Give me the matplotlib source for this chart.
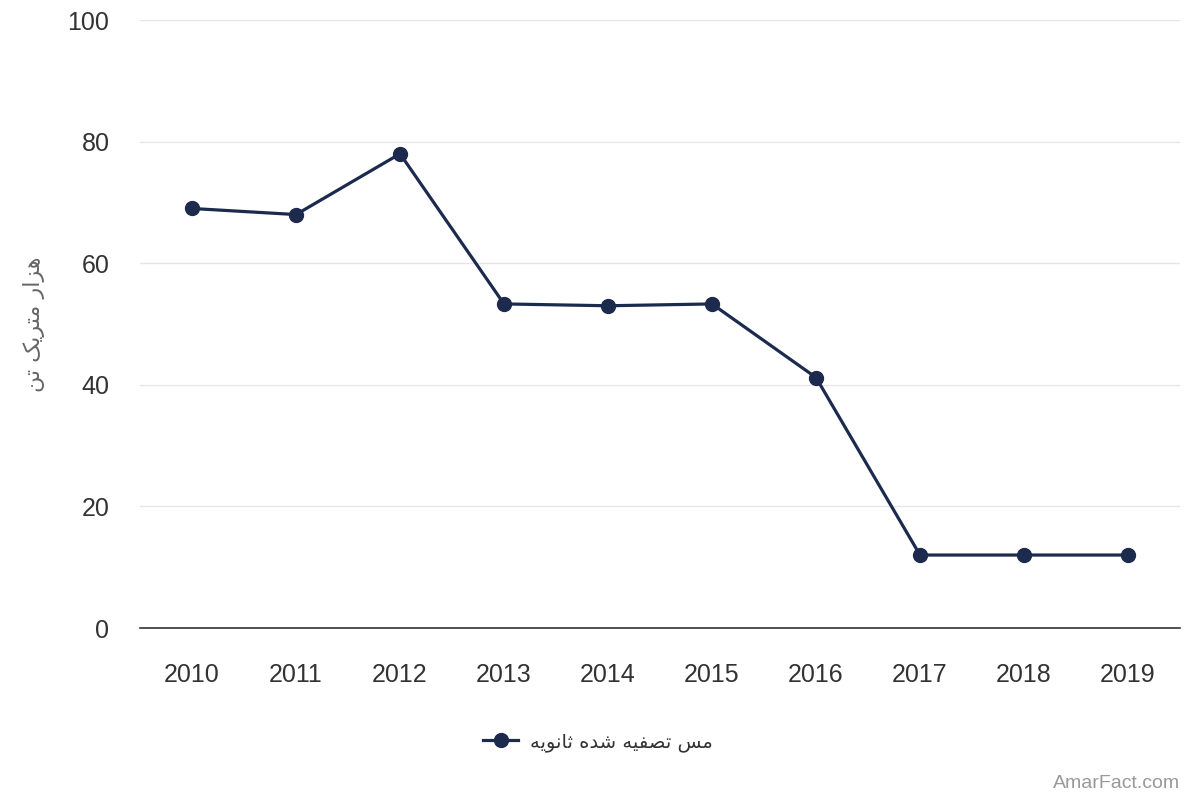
import matplotlib
matplotlib.use('Agg')
import matplotlib.pyplot as plt
from matplotlib.lines import Line2D

years = ['2010', '2011', '2012', '2013', '2014', '2015', '2016', '2017', '2018', '2019']
values = [69.0, 68.0, 78.0, 53.3, 53.0, 53.3, 41.2, 12.0, 12.0, 12.0]
series_name = 'مس تصفیه شده ثانویه'
y_title = 'هزار متریک تن'
y_ticks = [0, 20, 40, 60, 80, 100]

# matplotlib has no arabic shaping, so pick presentation forms by hand
# (isolated, final, initial, medial); two-form letters do not join to the left
FORMS = {
    'ا': ('\uFE8D', '\uFE8E'),
    'ت': ('\uFE95', '\uFE96', '\uFE97', '\uFE98'),
    'ث': ('\uFE99', '\uFE9A', '\uFE9B', '\uFE9C'),
    'د': ('\uFEA9', '\uFEAA'),
    'ر': ('\uFEAD', '\uFEAE'),
    'ز': ('\uFEAF', '\uFEB0'),
    'س': ('\uFEB1', '\uFEB2', '\uFEB3', '\uFEB4'),
    'ش': ('\uFEB5', '\uFEB6', '\uFEB7', '\uFEB8'),
    'ص': ('\uFEB9', '\uFEBA', '\uFEBB', '\uFEBC'),
    'ف': ('\uFED1', '\uFED2', '\uFED3', '\uFED4'),
    'م': ('\uFEE1', '\uFEE2', '\uFEE3', '\uFEE4'),
    'ن': ('\uFEE5', '\uFEE6', '\uFEE7', '\uFEE8'),
    'ه': ('\uFEE9', '\uFEEA', '\uFEEB', '\uFEEC'),
    'و': ('\uFEED', '\uFEEE'),
    'ی': ('\uFBFC', '\uFBFD', '\uFBFE', '\uFBFF'),
    'ک': ('\uFB8E', '\uFB8F', '\uFB90', '\uFB91'),
}


def rtl(text):
    out = []
    for i, ch in enumerate(text):
        if ch not in FORMS:
            out.append(ch)
            continue
        prev = text[i - 1] if i > 0 else ''
        nxt = text[i + 1] if i + 1 < len(text) else ''
        join_prev = prev in FORMS and len(FORMS[prev]) == 4
        join_next = nxt in FORMS and len(FORMS[ch]) == 4
        f = FORMS[ch]
        if join_prev and join_next:
            out.append(f[3])
        elif join_prev:
            out.append(f[1])
        elif join_next:
            out.append(f[2])
        else:
            out.append(f[0])
    return ''.join(reversed(out))


plt.rcParams['font.family'] = ['Liberation Sans', 'DejaVu Sans']

line_color = '#1c2a4d'

fig = plt.figure(figsize=(12, 8), dpi=100)
ax = fig.add_axes([140 / 1200, 172 / 800, 1040 / 1200, 608 / 800])

x = list(range(len(years)))
ax.plot(x, values, color=line_color, linewidth=2.3, marker='o',
        markersize=10, zorder=3, clip_on=False)

ax.set_xlim(-0.5, len(years) - 0.5)
ax.set_ylim(0, 100)
ax.set_xticks(x)
ax.set_xticklabels(years)
ax.set_yticks(y_ticks)
ax.tick_params(axis='both', length=0, labelsize=18, labelcolor='#333333')
ax.tick_params(axis='x', pad=25)
ax.tick_params(axis='y', pad=22)

ax.grid(axis='y', color='#e6e6e6', linewidth=1)
ax.set_axisbelow(True)
for side in ['top', 'right', 'left']:
    ax.spines[side].set_visible(False)
ax.spines['bottom'].set_color('#333333')
ax.spines['bottom'].set_linewidth(1.2)

ax.set_ylabel(rtl(y_title), fontsize=16, color='#666666', labelpad=16,
              family=['DejaVu Sans'])

handle = Line2D([0], [0], color=line_color, linewidth=2.3, marker='o', markersize=10)
fig.legend([handle], [rtl(series_name)], loc='center', bbox_to_anchor=(598 / 1200, 1 - 742 / 800),
           frameon=False, prop={'family': ['DejaVu Sans'], 'size': 14},
           handlelength=1.8, handletextpad=0.6, labelcolor='#333333')

fig.text(1180 / 1200, 1 - 784 / 800, 'AmarFact.com', ha='right', va='center',
         fontsize=14, color='#999999')

fig.savefig('out.png', dpi=100)
